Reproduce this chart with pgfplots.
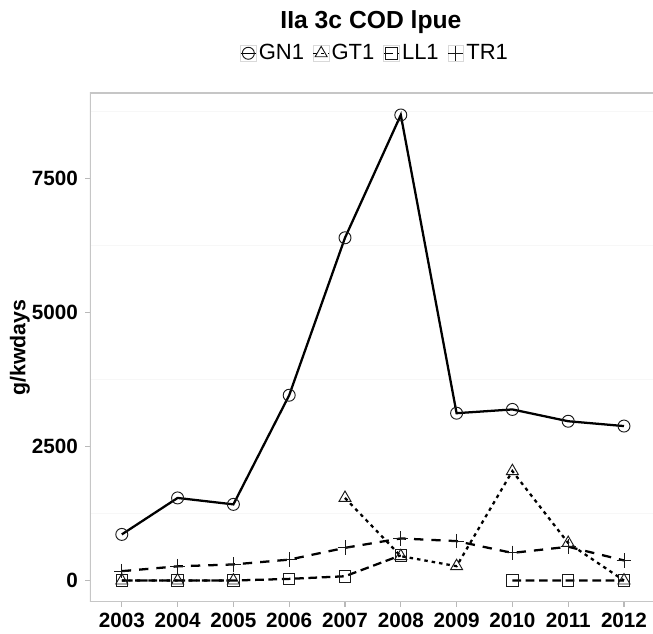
\documentclass[border=0pt]{standalone}
\usepackage{pgfplots}
\pgfplotsset{compat=1.18}
\usepackage{fontspec}
\setmainfont{Liberation Sans}
\begin{document}
\begin{tikzpicture}
\useasboundingbox (-67.5pt,-24pt) rectangle (422.25pt,451.5pt);
\begin{axis}[
  at={(0pt,0pt)}, anchor=south west,
  scale only axis, width=422.25pt, height=381.75pt,
  xmin=2002.43, xmax=2012.52,
  ymin=-400, ymax=9090,
  xtick={2003,2004,2005,2006,2007,2008,2009,2010,2011,2012},
  ytick={0,2500,5000,7500},
  /pgf/number format/1000 sep={},
  /pgf/number format/assume math mode=true,
  tick pos=left,
  tick align=outside,
  major tick length=3.5pt,
  every tick/.style={gray!55, line width=0.8pt},
  axis line style={draw=none},
  ticklabel style={font=\bfseries\fontsize{15.5}{17}\selectfont, black},
  yticklabel style={xshift=-2pt},
  xticklabel style={yshift=-1.5pt},
  extra y ticks={1250,3750,6250,8750},
  extra y tick labels={},
  extra y tick style={grid=major, major grid style={gray!6, line width=0.8pt}, major tick length=0pt},
  ylabel={\bfseries g/kwdays},
  every axis y label/.style={at={(rel axis cs:-0.1245,0.5)}, rotate=90, anchor=center, font=\fontsize{16}{18}\selectfont},
  title={\bfseries IIa 3c COD lpue},
  title style={at={(rel axis cs:0.499,1.124)}, anchor=center, font=\fontsize{18.5}{20}\selectfont},
  unbounded coords=jump,
  legend columns=4,
  legend style={at={(rel axis cs:0.506,1.078)}, anchor=center, draw=none, fill=none,
    font=\fontsize{16.5}{18}\selectfont,
    /tikz/every even column/.append style={column sep=5pt},
    nodes={inner sep=1.5pt}},
  legend image code/.code={
    \draw[gray!30, line width=0.6pt, solid, fill=white] (0pt,-5.8pt) rectangle (11.6pt,5.8pt);
    \draw[#1, mark repeat=2, mark phase=2, line width=1.1pt] plot coordinates {(0pt,0pt) (5.8pt,0pt) (11.6pt,0pt)};
  },
]
\addplot[black, line width=1.7pt, mark=o, mark size=4.5pt,
  mark options={solid, draw=gray!20!black, line width=0.7pt}]
  coordinates {(2003,860) (2004,1540) (2005,1420) (2006,3455) (2007,6390) (2008,8680) (2009,3120) (2010,3190) (2011,2970) (2012,2880)};
\addlegendentry{GN1}
\addplot[black, line width=1.7pt, dash pattern=on 2.6pt off 3pt, mark=triangle, mark size=5.2pt,
  mark options={solid, draw=gray!20!black, line width=0.7pt}]
  coordinates {(2003,0) (2004,0) (2005,0) (2006,nan) (2007,1540) (2008,455) (2009,268) (2010,2040) (2011,700) (2012,0)};
\addlegendentry{GT1}
\addplot[black, line width=1.7pt, dash pattern=on 6.5pt off 3.5pt, mark=square, mark size=4.3pt,
  mark options={solid, draw=gray!20!black, line width=0.7pt}]
  coordinates {(2003,0) (2004,0) (2005,0) (2006,31) (2007,80) (2008,470) (2009,nan) (2010,0) (2011,0) (2012,0)};
\addlegendentry{LL1}
\addplot[black, line width=1.7pt, dash pattern=on 7pt off 6pt, mark=+, mark size=5.5pt,
  mark options={solid, draw=gray!20!black, line width=0.7pt}]
  coordinates {(2003,175) (2004,265) (2005,300) (2006,390) (2007,610) (2008,785) (2009,735) (2010,515) (2011,630) (2012,375)};
\addlegendentry{TR1}
\draw[gray!45, line width=0.9pt] (rel axis cs:1,1) -- (rel axis cs:0,1) -- (rel axis cs:0,0) -- (rel axis cs:1,0);
\end{axis}
\end{tikzpicture}
\end{document}
